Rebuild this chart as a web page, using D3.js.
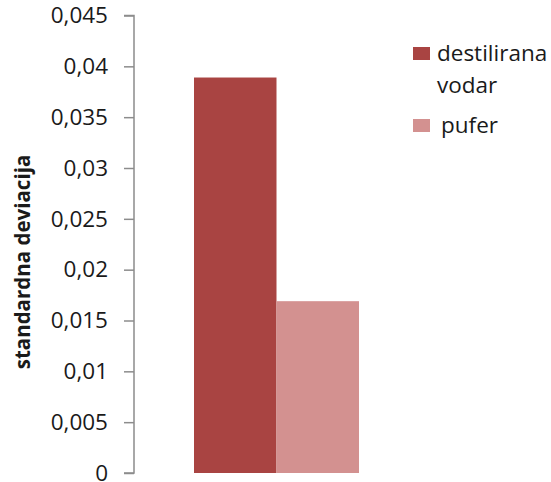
<!DOCTYPE html>
<html>
<head>
<meta charset="utf-8">
<script src="https://cdn.jsdelivr.net/npm/d3@7"></script>
<style>
  body { margin: 0; background: #fff; }
  svg { display: block; }
  text { font-family: "Open Sans", "Liberation Sans", sans-serif; fill: #1a1a1a; }
</style>
</head>
<body>
<svg id="chart" width="551" height="482"></svg>
<script>
// Series and their values (one category)
const seriesNames = ["destilirana vodar", "pufer"];
const seriesValues = [0.0389, 0.0169];
const seriesColors = ["#A94442", "#D39190"];
const yTicks = [0, 0.005, 0.01, 0.015, 0.02, 0.025, 0.03, 0.035, 0.04, 0.045];
const yTitle = "standardna deviacija";

const svg = d3.select("#chart");

const y = d3.scaleLinear().domain([0, 0.045]).range([473, 15.5]);
const x = d3.scaleBand().domain(seriesNames).range([194, 359]).padding(0);

// Y axis
const fmt = d => String(d).replace(".", ",");
const yAxis = d3.axisLeft(y).tickValues(yTicks).tickFormat(fmt).tickSize(10).tickPadding(16);
const gy = svg.append("g").attr("transform", "translate(134,0)").call(yAxis);
gy.select(".domain").attr("stroke", "#8c8c8c").attr("stroke-width", 1.5)
  .attr("d", "M-10,15.5H0V473H-10");
gy.selectAll(".tick line").attr("stroke", "#8c8c8c").attr("stroke-width", 1.5);
gy.selectAll(".tick text").attr("font-size", 22.5).attr("fill", "#1a1a1a")
  .attr("font-family", "'Open Sans', sans-serif");

// Axis title
svg.append("text")
  .attr("transform", "translate(30,262) rotate(-90)")
  .attr("text-anchor", "middle")
  .attr("font-size", 20.5)
  .attr("font-weight", "bold")
  .text(yTitle);

// Bars
svg.append("g").selectAll("rect")
  .data(seriesNames.map((n, i) => ({ name: n, value: seriesValues[i], color: seriesColors[i] })))
  .join("rect")
  .attr("x", d => x(d.name))
  .attr("width", x.bandwidth())
  .attr("y", d => y(d.value))
  .attr("height", d => y(0) - y(d.value))
  .attr("fill", d => d.color);

// Legend
const legend = svg.append("g");
const legendItems = [
  { lines: ["destilirana", "vodar"], color: seriesColors[0], y: 47 },
  { lines: ["pufer"], color: seriesColors[1], y: 119 }
];
legendItems.forEach(item => {
  legend.append("rect").attr("x", 413).attr("y", item.y).attr("width", 17).attr("height", 13)
    .attr("fill", item.color);
  item.lines.forEach((ln, j) => {
    legend.append("text")
      .attr("x", item.lines.length > 1 ? 437 : 441)
      .attr("y", item.y + 14 + j * 32)
      .attr("font-size", 22.5)
      .text(ln);
  });
});
</script>
</body>
</html>
